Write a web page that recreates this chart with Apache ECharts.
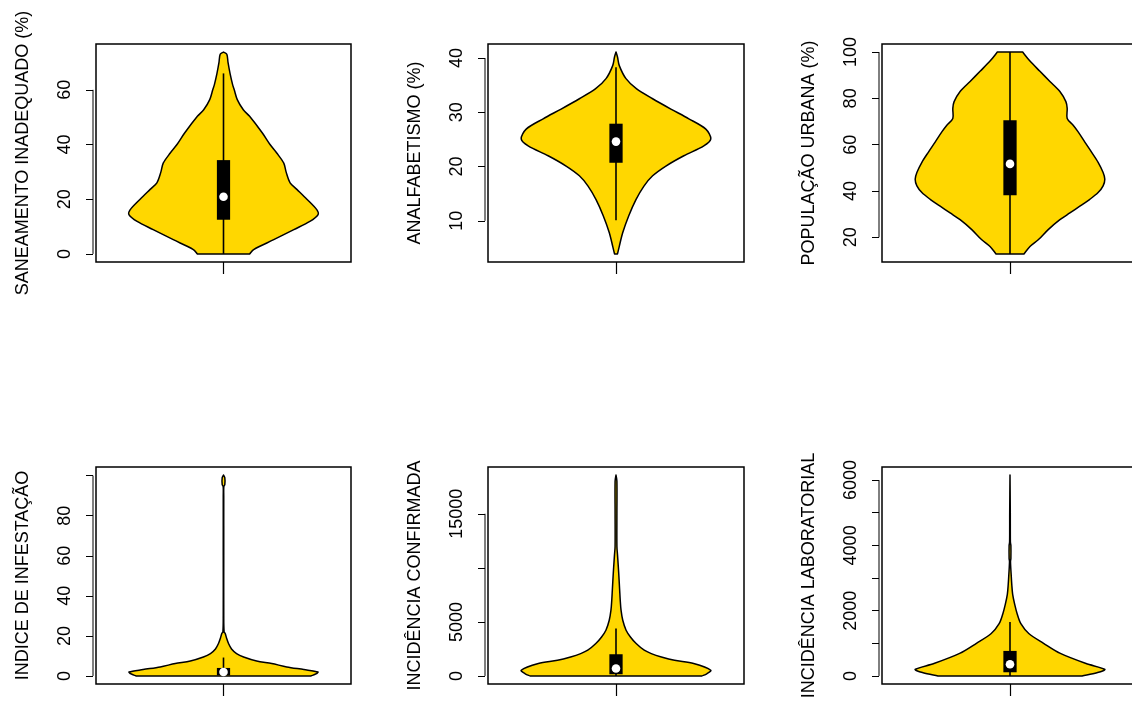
<!DOCTYPE html>
<html><head><meta charset="utf-8">
<script src="https://cdn.jsdelivr.net/npm/echarts@6/dist/echarts.min.js"></script>
<style>html,body{margin:0;padding:0;background:#fff}#c{width:1132px;height:701px}</style>
</head><body><div id="c"></div>
<script>
// ---- data ----
const titles = ['SANEAMENTO INADEQUADO (%)', 'ANALFABETISMO (%)', 'POPULAÇÃO URBANA (%)',
                'INDICE DE INFESTAÇÃO', 'INCIDÊNCIA CONFIRMADA', 'INCIDÊNCIA LABORATORIAL'];

// violin profiles: y value and relative density (half-width)
const saneY = [0, 1.6, 5.2, 8.9, 11.9, 14.3, 16.1, 20, 23.6, 26, 30, 33.2, 36.9, 40, 44.2, 50.3, 52.7, 56.4, 60, 62, 66, 70, 73, 73.8];
const saneW = [26, 30, 50, 70, 86, 94, 93, 83, 73, 66.3, 62.3, 60, 53, 46.3, 38.7, 26, 19.7, 13.7, 10.7, 9, 6.5, 4.5, 3.3, 0];

const analfY = [3.9, 5.3, 7.8, 10.9, 13.9, 16.4, 18.3, 20.1, 22.0, 23.8, 25.1, 26.9, 28.8, 30.6, 32.5, 34.3, 36.2, 38.6, 40.2, 41.1];
const analfW = [1.5, 3.3, 6.7, 12.7, 20, 28, 36.7, 50, 68, 88, 95, 90, 73, 55, 36.7, 20.7, 10, 3.3, 1.5, 0];

const urbY = [12.8, 16.0, 18.9, 23.3, 27.6, 30.5, 33.4, 36.4, 39.3, 42.2, 45.1, 48.0, 52.4, 56.8, 61.1, 65.5, 68.4, 71.3, 75.7, 78.6, 83.0, 87.3, 91.7, 96.1, 100];
const urbW = [14, 20, 28.3, 38.3, 50, 60, 70, 80, 88.3, 93.3, 95, 93.3, 88.3, 81.7, 75, 68.3, 63.3, 57.3, 57.3, 56, 50, 40, 30, 20, 12.7];

const infY = [0, 1, 2, 3.2, 4.5, 6.2, 7.5, 9.5, 11.2, 13.5, 16.2, 19, 21.2, 22, 30, 60, 90, 94.5, 95.5, 99, 100.3];
const infW = [87, 92, 94, 80, 63, 48, 33, 20, 13, 8, 5, 3, 1.7, 0.6, 0.25, 0.25, 0.25, 0.3, 1.3, 1.3, 0];

const confY = [0, 200, 530, 1150, 1450, 1760, 2070, 2380, 3000, 3610, 4230, 5150, 6080, 7000, 8000, 9500, 10500, 11200, 12000, 15000, 18000, 18580];
const confW = [85, 90, 94, 77, 58, 45, 35, 28, 20, 14.3, 10, 6.7, 5, 4.2, 3.6, 2.7, 2.0, 1.5, 0.9, 0.9, 0.9, 0];

const labY = [0, 100, 200, 380, 690, 1000, 1300, 1600, 1900, 2200, 2500, 2800, 3100, 3500, 3600, 4000, 4100, 5000, 6155];
const labW = [73, 88, 96, 77, 51, 34, 19, 11, 7.3, 4.7, 2.7, 1.8, 1.2, 0.5, 0.9, 0.9, 0.4, 0.3, 0];

const violinY = [saneY, analfY, urbY, infY, confY, labY];
const violinW = [saneW, analfW, urbW, infW, confW, labW];

// box stats
const boxQ1 = [12.5, 20.7, 38.2, 0.3, 157, 113];
const boxQ3 = [34.3, 27.9, 70.5, 4.0, 2009, 767];
const medians = [20.9, 24.6, 51.7, 2.0, 685, 359];
const whiskerLo = [0, 10.1, 12.8, 0, 0, 0];
const whiskerHi = [66, 38.3, 100, 9.2, 4389, 1656];

// axis ticks
const tickValues = [[0, 20, 40, 60], [10, 20, 30, 40], [20, 40, 60, 80, 100],
                    [0, 20, 40, 60, 80, 100], [0, 5000, 10000, 15000], [0, 1000, 2000, 3000, 4000, 5000, 6000]];
const tickLabels = [[0, 20, 40, 60], [10, 20, 30, 40], [20, 40, 60, 80, 100],
                    [0, 20, 40, 60, 80], [0, 5000, 15000], [0, 2000, 4000, 6000]];

// ---- layout ----
const lefts = [96, 488, 882], widths = [255, 256, 256];
const tops = [44, 467], heights = [218, 217];
const XMIN = -0.54, XMAX = 0.54, HALF = 0.4, BOXW = 0.028;
const FONT = '"Liberation Sans", Arial, sans-serif';

const chart = echarts.init(document.getElementById('c'));
const grid = [], xAxis = [], yAxis = [], series = [];

for (let k = 0; k < 6; k++) {
  const r = Math.floor(k / 3), c = k % 3;
  grid.push({left: lefts[c], top: tops[r], width: widths[c], height: heights[r],
    show: true, borderColor: '#000', borderWidth: 1.5, backgroundColor: 'transparent',
    containLabel: false, outerBoundsMode: 'none'});
  const ys = violinY[k];
  const lo = Math.min(...ys), hi = Math.max(...ys), pad = 0.04 * (hi - lo);
  xAxis.push({gridIndex: k, type: 'value', min: XMIN, max: XMAX, show: false, position: 'bottom',
    axisLine: {onZero: false}});
  xAxis.push({gridIndex: k, type: 'category', data: [''], boundaryGap: true, position: 'bottom',
    axisLine: {show: false, onZero: false}, axisLabel: {show: false}, splitLine: {show: false},
    axisTick: {show: true, alignWithLabel: true, length: 12, lineStyle: {color: '#000', width: 1.2}}});
  yAxis.push({gridIndex: k, type: 'value', min: lo - pad, max: hi + pad, offset: 3, position: 'left',
    name: titles[k], nameLocation: 'middle', nameGap: 61, nameRotate: 90,
    nameTextStyle: {fontFamily: FONT, fontSize: 18, color: '#000'},
    axisLine: {show: false, onZero: false}, splitLine: {show: false},
    axisTick: {show: true, length: 7, customValues: tickValues[k], lineStyle: {color: '#000', width: 1}},
    axisLabel: {show: true, rotate: 90, margin: 19, customValues: tickLabels[k],
      formatter: v => String(v), fontFamily: FONT, fontSize: 18, color: '#000'}});
  series.push({
    type: 'custom', coordinateSystem: 'cartesian2d', xAxisIndex: 2 * k, yAxisIndex: k,
    clip: false, silent: true, data: [[0, medians[k]]],
    renderItem: (params, api) => {
      const yv = violinY[k], wv = violinW[k];
      const wmax = Math.max(...wv);
      const left = [], right = [];
      for (let i = 0; i < yv.length; i++) left.push(api.coord([-HALF * wv[i] / wmax, yv[i]]));
      for (let i = yv.length - 1; i >= 0; i--) right.push(api.coord([HALF * wv[i] / wmax, yv[i]]));
      // repeat end points so the smoothed outline keeps sharp corners at the truncated ends
      const pts = [left[0]].concat(left, [left[left.length - 1], right[0]], right, [right[right.length - 1]]);
      const wl = api.coord([0, whiskerLo[k]]), wh = api.coord([0, whiskerHi[k]]);
      const b1 = api.coord([-BOXW, boxQ3[k]]), b2 = api.coord([BOXW, boxQ1[k]]);
      const m = api.coord([0, medians[k]]);
      const tv = tickValues[k];
      const t0 = api.coord([XMIN, tv[0]]), t1 = api.coord([XMIN, tv[tv.length - 1]]);
      return {type: 'group', children: [
        {type: 'polygon', shape: {points: pts, smooth: 0.3}, style: {fill: '#FFD700', stroke: '#000', lineWidth: 1.5, lineJoin: 'round'}},
        {type: 'line', shape: {x1: wl[0], y1: wl[1], x2: wh[0], y2: wh[1]}, style: {stroke: '#000', lineWidth: 1.6}},
        {type: 'rect', shape: {x: b1[0], y: b1[1], width: b2[0] - b1[0], height: b2[1] - b1[1]}, style: {fill: '#000'}},
        {type: 'circle', shape: {cx: m[0], cy: m[1], r: 4.3}, style: {fill: '#fff'}},
        {type: 'line', shape: {x1: t0[0] - 3, y1: t0[1], x2: t1[0] - 3, y2: t1[1]}, style: {stroke: '#000', lineWidth: 1}}
      ]};
    }
  });
}

chart.setOption({animation: false, backgroundColor: '#fff', grid, xAxis, yAxis, series});
</script>
</body></html>
